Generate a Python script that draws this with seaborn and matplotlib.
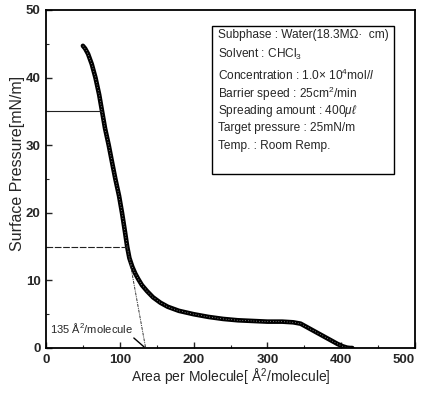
import matplotlib
matplotlib.use("Agg")
import matplotlib.pyplot as plt
import seaborn as sns
import pandas as pd
from matplotlib.patches import Rectangle

# Isotherm
area = [50, 53, 57, 62, 67, 72, 76, 80, 85, 90, 94, 99, 103, 107, 110, 113, 117, 121, 125,
        130, 137, 145, 155, 165, 180, 200, 220, 240, 260, 280, 300, 320, 335, 345,
        355, 365, 375, 385, 395, 402, 408, 412, 415]
pressure = [44.7, 44.3, 43.5, 42.0, 40.0, 37.5, 35.0, 32.5, 30.0, 27.2, 25.0, 22.5, 20.0,
            17.2, 15.0, 13.3, 12.0, 11.0, 10.2, 9.3, 8.4, 7.5, 6.7, 6.1, 5.5, 5.0, 4.6,
            4.3, 4.1, 4.0, 3.9, 3.9, 3.8, 3.6, 3.0, 2.4, 1.8, 1.2, 0.6, 0.25, 0.05, 0.0, 0.0]

# Tangent (extrapolation) line and guide lines
tangent_x = [110, 135]
tangent_y = [15, 0]
guide_y = [35, 15]
guide_x_end = [76, 110]

x_ticks = [0, 100, 200, 300, 400, 500]
y_ticks = [0, 10, 20, 30, 40, 50]

info_lines = [
    "Subphase : Water(18.3M\u03a9\u00b7  cm)",
    "Solvent : CHCl$_3$",
    "Concentration : 1.0\u00d7 10$^4$mol/$l$",
    "Barrier speed : 25cm$^2$/min",
    "Spreading amount : 400$\\mu\\ell$",
    "Target pressure : 25mN/m",
    "Temp. : Room Remp.",
]

sns.set_theme(style="ticks")
plt.rcParams['font.family'] = ['Liberation Sans', 'DejaVu Sans']
plt.rcParams['mathtext.fontset'] = 'custom'
plt.rcParams['mathtext.rm'] = 'Liberation Sans'
plt.rcParams['mathtext.it'] = 'Liberation Sans:italic'

fig = plt.figure(figsize=(4.24, 3.94), dpi=100)
ax = fig.add_axes([46/424, 46/394, 369/424, 338/394])

df = pd.DataFrame({"area": area, "pressure": pressure})
sns.lineplot(data=df, x="area", y="pressure", ax=ax, color="black", lw=3.3,
             sort=False, solid_capstyle="round")
sns.lineplot(data=df, x="area", y="pressure", ax=ax, color="#dddddd", lw=0.5,
             sort=False, linestyle=(0, (1, 3)))

tdf = pd.DataFrame({"x": tangent_x, "y": tangent_y})
sns.lineplot(data=tdf, x="x", y="y", ax=ax, color="#333333", lw=0.7,
             linestyle=(0, (3, 1, 1, 1)))

ax.hlines(guide_y[0], 0, guide_x_end[0], color="#222222", lw=0.8)
ax.hlines(guide_y[1], 0, guide_x_end[1], color="#222222", lw=0.8, linestyles=(0, (6, 1.5)))

ax.annotate("135 \u00c5$^2$/molecule", xy=(133, 0.15), xytext=(5, 3.0),
            fontsize=8, va="center", ha="left",
            arrowprops=dict(arrowstyle="-", color="black", lw=1.0,
                            shrinkA=0, shrinkB=0, relpos=(0.93, 0.2)))

ax.set_xlim(0, 500)
ax.set_ylim(0, 50)
ax.set_xticks(x_ticks)
ax.set_yticks(y_ticks)
ax.set_xticks([50, 150, 250, 350, 450], minor=True)
ax.set_yticks([5, 15, 25, 35, 45], minor=True)
ax.tick_params(direction="in", length=4, width=1, labelsize=9.5, pad=4)
ax.tick_params(which="minor", direction="in", length=2.5, width=0.8)
for lab in ax.get_xticklabels() + ax.get_yticklabels():
    lab.set_fontweight("bold")
xl = ax.get_xticklabels()
xl[-1].set_horizontalalignment("right")
for sp in ax.spines.values():
    sp.set_visible(True)
    sp.set_linewidth(1.3)
    sp.set_color("black")

ax.set_xlabel("Area per Molecule[ \u00c5$^2$/molecule]", fontsize=10, labelpad=1)
ax.set_ylabel("Surface Pressure[mN/m]", fontsize=11.5, labelpad=2)
ax.yaxis.set_label_coords(-0.058, 0.545)

# info box
box = Rectangle((212/424, (394-174)/394), (394-212)/424, (174-26)/394,
                transform=fig.transFigure, facecolor="white", edgecolor="black", lw=1.0)
fig.patches.append(box)
ys = [35, 54, 75, 94, 111, 128, 146]
for t, yp in zip(info_lines, ys):
    fig.text(218/424, 1 - yp/394, t, fontsize=8.6, va="center", ha="left")

fig.savefig("out.png", dpi=100)
